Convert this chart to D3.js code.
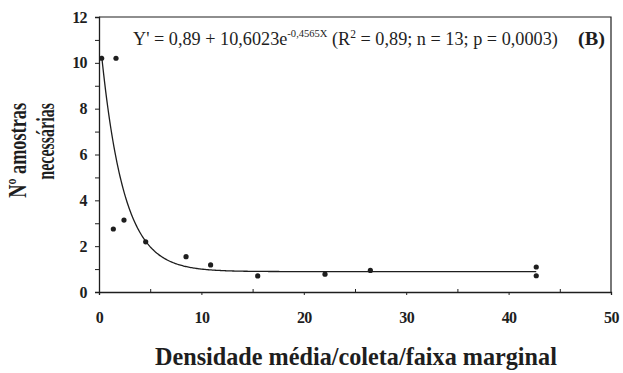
<!DOCTYPE html>
<html><head><meta charset="utf-8">
<script src="https://cdn.jsdelivr.net/npm/d3@7"></script>
<style>body{margin:0;background:#fff}svg{display:block}
text{font-family:"Liberation Serif","Times New Roman",Times,serif}</style>
</head><body>
<svg id="c" width="623" height="373"></svg>
<script>
// Data
const densidade = [0.26, 1.66, 1.4, 2.44, 4.56, 8.5, 10.9, 15.5, 22.07, 26.5, 42.7, 42.7];
const amostras  = [10.2, 10.2, 2.75, 3.14, 2.19, 1.54, 1.18, 0.70, 0.78, 0.94, 1.09, 0.71];
const xTickValues = [0, 10, 20, 30, 40, 50];
const yTickValues = [0, 2, 4, 6, 8, 10, 12];
const xMinorTicks = [5, 15, 25, 35, 45];
const yMinorTicks = [1, 3, 5, 7, 9, 11];
const fitA = 0.89, fitB = 10.6023, fitK = 0.4565;
const fitRange = [0.26, 42.7];
const xTitle = "Densidade média/coleta/faixa marginal";
const yTitleLines = ["Nº amostras", "necessárias"];
const panelLabel = "(B)";

const svg = d3.select("#c");
const ink = "#1e1e1e";
const L = 99, R = 611, T = 17, B = 292;
const x = d3.scaleLinear().domain([0, 50]).range([L, R]);
const y = d3.scaleLinear().domain([0, 12]).range([B, T]);

function fitWidth(sel, target, ax) {
  const w = sel.node().getBBox().width;
  const s = target / w;
  sel.attr("transform", `translate(${ax},0) scale(${s},1) translate(${-ax},0)`);
}

// frame top/right
svg.append("path").attr("d", `M${L},${T}H${R}V${B}`).attr("fill","none").attr("stroke", ink).attr("stroke-width",1.2);

// axes
svg.append("g").attr("transform", `translate(0,${B})`)
  .call(d3.axisBottom(x).tickValues(xTickValues).tickSize(3).tickPadding(17).tickFormat(d3.format("d")));
svg.append("g").attr("transform", `translate(0,${B})`)
  .call(d3.axisBottom(x).tickValues(xMinorTicks).tickSize(-3).tickFormat(""))
  .call(g => g.select(".domain").remove());
svg.append("g").attr("transform", `translate(${L},0)`)
  .call(d3.axisLeft(y).tickValues(yTickValues).tickSize(4).tickPadding(8).tickFormat(d3.format("d")));
svg.append("g").attr("transform", `translate(${L},0)`)
  .call(d3.axisLeft(y).tickValues(yMinorTicks).tickSize(4).tickFormat(""))
  .call(g => g.select(".domain").remove());
svg.selectAll(".domain").attr("stroke", ink).attr("stroke-width", 1.3);
svg.selectAll(".tick line").attr("stroke", ink).attr("stroke-width", 1);
svg.selectAll("g[font-family]").attr("font-family", null);
svg.selectAll(".tick text").attr("fill", ink)
  .attr("font-weight", "bold").attr("font-size", 16).attr("letter-spacing", -0.6);

// fitted curve
const curveX = d3.range(fitRange[0], fitRange[1] + 0.001, 0.1).concat([fitRange[1]]);
svg.append("path")
  .datum(curveX)
  .attr("fill", "none").attr("stroke", ink).attr("stroke-width", 1.3)
  .attr("d", d3.line().x(d => x(d)).y(d => y(fitA + fitB * Math.exp(-fitK * d))));

// points
svg.append("g").selectAll("circle").data(densidade).join("circle")
  .attr("cx", d => x(d)).attr("cy", (d, i) => y(amostras[i])).attr("r", 2.6).attr("fill", ink);

// equation
const eq = svg.append("text").attr("x", 133).attr("y", 45)
  .attr("font-size", 19).attr("fill", ink);
eq.append("tspan").text("Y' = 0,89 + 10,6023e");
eq.append("tspan").attr("dy", -8).attr("font-size", 11).text("-0,4565X");
eq.append("tspan").attr("dy", 8).text(" (R");
eq.append("tspan").attr("dy", -7).attr("font-size", 12).text("2");
eq.append("tspan").attr("dy", 7).text(" = 0,89; n = 13; p = 0,0003)");
fitWidth(eq, 425, 133);

const bl = svg.append("text").attr("x", 578).attr("y", 45)
  .attr("font-weight", "bold").attr("font-size", 19).attr("fill", ink).text(panelLabel);
fitWidth(bl, 27, 578);

// x title
const xt = svg.append("text").attr("x", 155).attr("y", 365)
  .attr("font-weight", "bold").attr("font-size", 26).attr("fill", ink).text(xTitle);
fitWidth(xt, 402, 155);

// y title
[[26, 0], [54, 1]].forEach(([bx, i]) => {
  const g = svg.append("g").attr("transform", `translate(${bx},103) rotate(-90)`);
  const t = g.append("text").attr("x", 0).attr("y", 0).attr("text-anchor", "end")
    .attr("font-weight", "bold").attr("font-size", 25)
    .attr("fill", ink).text(yTitleLines[i]);
  const w = t.node().getBBox().width;
  const target = i === 0 ? 95 : 77;
  t.attr("transform", `scale(${target / w},1)`);
});
</script>
</body></html>
